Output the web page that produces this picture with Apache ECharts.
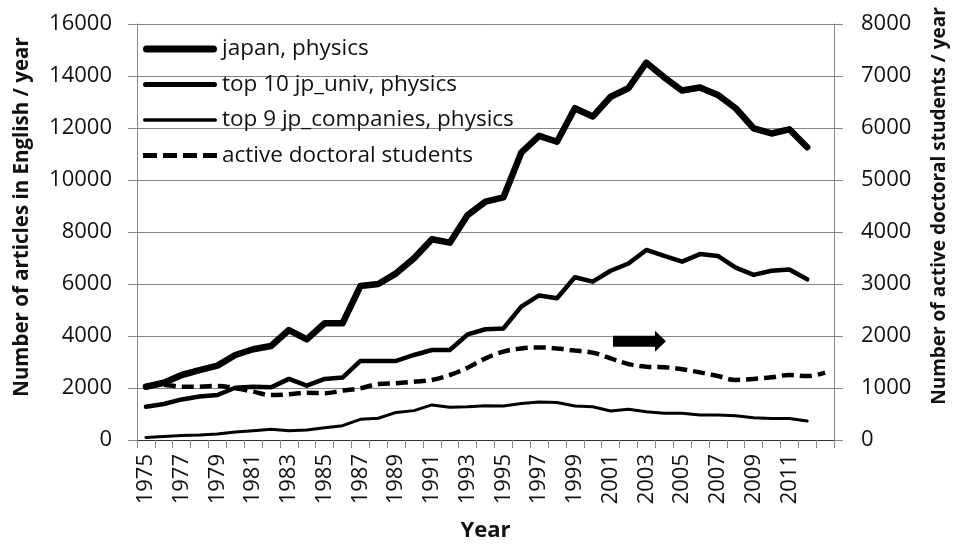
<!DOCTYPE html>
<html><head><meta charset="utf-8">
<script src="https://cdn.jsdelivr.net/npm/echarts@6/dist/echarts.min.js"></script>
<style>html,body{margin:0;padding:0;background:#fff}#c{width:957px;height:545px}</style>
</head><body><div id="c"></div>
<script>
const years = ['1975','1976','1977','1978','1979','1980','1981','1982','1983','1984','1985','1986','1987','1988','1989','1990','1991','1992','1993','1994','1995','1996','1997','1998','1999','2000','2001','2002','2003','2004','2005','2006','2007','2008','2009','2010','2011','2012','2013'];
const japanPhysics = [2050,2200,2500,2690,2860,3270,3490,3615,4230,3870,4490,4490,5920,6000,6410,6990,7720,7590,8650,9170,9330,11050,11700,11470,12760,12440,13200,13530,14510,13950,13440,13560,13270,12760,11990,11790,11950,11260,null];
const top10Univ = [1280,1385,1560,1670,1730,2010,2050,2025,2350,2090,2350,2400,3040,3040,3040,3270,3460,3460,4060,4260,4290,5130,5560,5450,6260,6090,6510,6790,7310,7080,6860,7150,7080,6630,6350,6510,6560,6180,null];
const top9Companies = [100,130,170,190,230,310,360,410,360,385,475,550,795,835,1060,1130,1350,1260,1280,1320,1310,1400,1460,1440,1310,1280,1115,1180,1090,1025,1025,960,960,935,860,830,830,730,null];
const doctoralStudents = [1040,1060,1025,1025,1040,995,930,865,880,910,900,950,995,1075,1090,1120,1155,1250,1390,1570,1700,1760,1780,1760,1720,1680,1570,1460,1410,1400,1360,1300,1230,1155,1175,1205,1250,1230,1295];
const leftTicks = {min:0, max:16000, interval:2000};
const rightTicks = {min:0, max:8000, interval:1000};
const names = ['japan, physics','top 10 jp_univ, physics','top 9 jp_companies, physics','active doctoral students'];
const arrowAt = {year:'2002', value:1900};

const FONT = 'Open Sans';
const TXT = '#111';
const GRID = '#868686';

function barIcon(h){
  const y0 = 7 - h/2, y1 = 7 + h/2, r = h/2;
  return 'path://M0,0 L0.01,0 L0.01,0.01 Z M74,14 L73.99,14 L73.99,13.99 Z ' +
    'M' + r + ',' + y0 + ' L' + (74 - r) + ',' + y0 + ' A' + r + ',' + r + ' 0 0 1 ' + (74 - r) + ',' + y1 +
    ' L' + r + ',' + y1 + ' A' + r + ',' + r + ' 0 0 1 ' + r + ',' + y0 + ' Z';
}
function dashIcon(h){
  const y0 = 7 - h/2, y1 = 7 + h/2;
  let p = 'path://M0,0 L0.01,0 L0.01,0.01 Z M74,14 L73.99,14 L73.99,13.99 Z ';
  [0, 20, 40, 60].forEach(function(s){
    const e = Math.min(s + 14, 74);
    p += 'M' + s + ',' + y0 + ' L' + e + ',' + y0 + ' L' + e + ',' + y1 + ' L' + s + ',' + y1 + ' Z ';
  });
  return p;
}

const chart = echarts.init(document.getElementById('c'), null, {renderer:'canvas'});
chart.setOption({
  animation:false,
  textStyle:{fontFamily:FONT},
  grid:{left:137, right:123, top:24, bottom:105, containLabel:false, outerBoundsMode:'none'},
  legend:{
    orient:'vertical', left:138, top:32, itemWidth:74, itemHeight:14, itemGap:11.5,
    textStyle:{fontFamily:FONT, fontSize:22.5, color:TXT, lineHeight:24},
    itemStyle:{borderWidth:0},
    data:[
      {name:names[0], icon:barIcon(7)},
      {name:names[1], icon:barIcon(5)},
      {name:names[2], icon:barIcon(3.5)},
      {name:names[3], icon:dashIcon(5)}
    ]
  },
  xAxis:[{
    type:'category', data:years, boundaryGap:true,
    name:'Year', nameLocation:'middle', nameGap:80,
    nameTextStyle:{fontFamily:FONT, fontWeight:'bold', fontSize:22, color:TXT},
    axisLine:{lineStyle:{color:GRID, width:1}},
    axisTick:{show:true, interval:0, length:8, lineStyle:{color:GRID}},
    axisLabel:{rotate:90, fontSize:22, color:TXT, fontFamily:FONT, margin:14,
      interval:function(i){return i%2===0 && i<38;}},
    splitLine:{show:false}
  },{
    type:'category', data:years, position:'top',
    axisLine:{show:true, lineStyle:{color:'#333', width:1}},
    axisTick:{show:false}, axisLabel:{show:false}, splitLine:{show:false}
  }],
  yAxis:[{
    type:'value', min:leftTicks.min, max:leftTicks.max, interval:leftTicks.interval,
    name:'Number of articles in English / year', nameLocation:'middle', nameGap:104,
    nameTextStyle:{fontFamily:FONT, fontWeight:'bold', fontSize:20.5, color:TXT, padding:[0,0,0,30]},
    axisLine:{show:true, lineStyle:{color:GRID}},
    axisTick:{show:true, length:9, lineStyle:{color:GRID}},
    axisLabel:{fontSize:22, color:TXT, fontFamily:FONT, margin:25, formatter:function(v){return String(v);}},
    splitLine:{show:true, lineStyle:{color:GRID, width:1}}
  },{
    type:'value', min:rightTicks.min, max:rightTicks.max, interval:rightTicks.interval, position:'right',
    name:'Number of active doctoral students / year', nameLocation:'middle', nameGap:96,
    nameTextStyle:{fontFamily:FONT, fontWeight:'bold', fontSize:19, color:TXT, padding:[0,0,0,52]},
    axisLine:{show:true, lineStyle:{color:GRID}},
    axisTick:{show:true, length:9, lineStyle:{color:GRID}},
    axisLabel:{fontSize:22, color:TXT, fontFamily:FONT, margin:27, formatter:function(v){return String(v);}},
    splitLine:{show:false}
  }],
  series:[
    {name:names[0], type:'line', data:japanPhysics, symbol:'none', yAxisIndex:0,
     lineStyle:{color:'#000', width:6.5, join:'round', cap:'round'}, itemStyle:{color:'#000'}},
    {name:names[1], type:'line', data:top10Univ, symbol:'none', yAxisIndex:0,
     lineStyle:{color:'#000', width:4.5, join:'round', cap:'round'}, itemStyle:{color:'#000'}},
    {name:names[2], type:'line', data:top9Companies, symbol:'none', yAxisIndex:0,
     lineStyle:{color:'#000', width:3, join:'round', cap:'round'}, itemStyle:{color:'#000'}},
    {name:names[3], type:'line', data:doctoralStudents, symbol:'none', yAxisIndex:1, smooth:0.4,
     lineStyle:{color:'#000', width:4.5, type:[12,6]}, itemStyle:{color:'#000'},
     markPoint:{
       symbol:'path://M0,5 L42,5 L42,0 L53,10.5 L42,21 L42,16 L0,16 Z',
       symbolSize:[53,21], symbolKeepAspect:false, symbolOffset:[11,0],
       itemStyle:{color:'#000'}, label:{show:false},
       data:[{coord:[arrowAt.year, arrowAt.value]}]
     }}
  ]
});
</script></body></html>
